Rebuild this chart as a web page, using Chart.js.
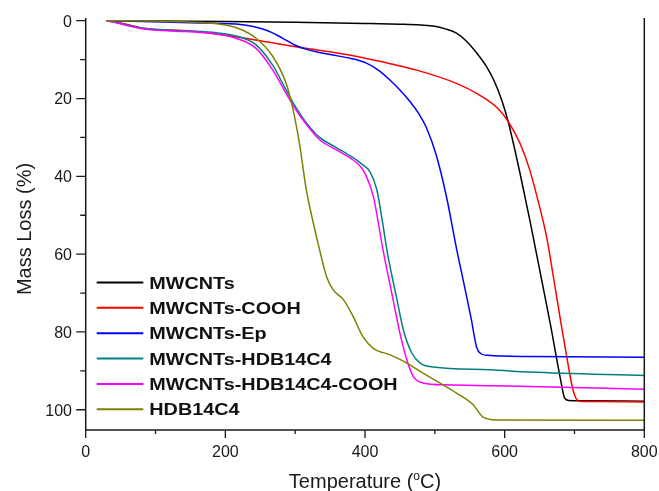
<!DOCTYPE html>
<html>
<head>
<meta charset="utf-8">
<script src="https://cdn.jsdelivr.net/npm/chart.js@4/dist/chart.umd.min.js"></script>
<style>
  html, body { margin: 0; padding: 0; background: #ffffff; }
  #wrap { width: 659px; height: 491px; }
</style>
</head>
<body>
<div id="wrap"><canvas id="c" width="659" height="491"></canvas></div>
<script>
// Thermogravimetric curves: mass loss (%) versus temperature (°C)
const seriesNames = ['MWCNTs', 'MWCNTs-COOH', 'MWCNTs-Ep', 'MWCNTs-HDB14C4', 'MWCNTs-HDB14C4-COOH', 'HDB14C4'];
const seriesColors = ['#000000', '#ff0000', '#0000ff', '#008080', '#ff00ff', '#808000'];

const tempMWCNTs = [30, 100, 200, 300, 400, 450, 480, 500, 515, 531, 545, 560, 573, 585, 596, 605, 622, 636, 653, 666, 679, 686, 692, 710, 800];
const lossMWCNTs = [0, 0.1, 0.2, 0.4, 0.7, 0.9, 1.1, 1.4, 2.1, 3.2, 5.2, 8.3, 11.5, 15.5, 20.5, 25.9, 39.2, 51.2, 66.6, 78.5, 91.2, 97.0, 97.6, 97.7, 97.8];

const tempCOOH = [30, 50, 86, 144, 215, 258, 315, 350, 402, 474, 531, 564, 590, 605, 622, 636, 650, 660, 670.5, 680, 690, 698, 706, 720, 800];
const lossCOOH = [0, 0.6, 2.0, 2.6, 4.1, 5.4, 7.1, 8.0, 9.7, 12.7, 16.1, 19.1, 22.5, 25.9, 31.5, 38.4, 47.8, 55.5, 66.6, 77.0, 87.5, 95.0, 97.8, 97.9, 98.0];

const tempEp = [30, 96, 150, 215, 240, 258, 275, 287, 300, 315, 330, 350, 380, 402, 420, 436, 450, 465, 476, 488, 502, 517, 531, 541, 552, 560, 566, 575, 636, 800];
const lossEp = [0, 0.25, 0.5, 0.85, 1.5, 2.4, 3.8, 5.0, 6.3, 7.3, 8.0, 8.7, 9.7, 10.9, 12.8, 15.3, 17.8, 20.9, 23.6, 27.5, 34.5, 45.5, 58.5, 67.0, 76.5, 84.0, 85.6, 86.0, 86.3, 86.5];

const tempHDB = [30, 48, 70, 86, 144, 187, 215, 244, 268, 287, 301, 315, 335, 359, 383, 395, 407, 417, 433, 445, 455, 467, 479, 498, 579, 636, 800];
const lossHDB = [0, 0.6, 1.5, 2.0, 2.6, 3.1, 3.9, 6.2, 11.5, 17.8, 22.3, 26.0, 30.0, 32.6, 35.2, 36.8, 38.8, 43.5, 60.6, 71.0, 79.5, 85.4, 88.0, 89.0, 89.7, 90.3, 91.2];

const tempHDBCOOH = [30, 48, 70, 86, 144, 187, 215, 244, 268, 287, 301, 315, 335, 359, 383, 395, 402, 412, 426, 440, 450, 460, 469, 483, 517, 579, 636, 800];
const lossHDBCOOH = [0, 0.7, 1.7, 2.2, 2.8, 3.4, 4.5, 7.1, 12.7, 18.7, 22.9, 26.4, 30.6, 33.2, 35.8, 37.8, 40.0, 45.2, 59.1, 71.5, 80.3, 87.2, 91.4, 93.1, 93.6, 93.8, 94.0, 94.7];

const tempPure = [30, 100, 144, 191, 219, 244, 268, 287, 296, 306, 316, 326, 335, 345, 354.5, 369, 383, 397, 412, 436, 460, 483, 507, 531, 555, 569, 588, 800];
const lossPure = [0, 0.1, 0.3, 0.85, 2.0, 4.5, 9.2, 16.1, 22.1, 31.4, 43.5, 52.0, 58.9, 65.8, 69.2, 71.7, 76.0, 81.2, 84.2, 85.9, 88.0, 90.6, 93.1, 95.7, 98.7, 101.9, 102.6, 102.7];

const xTicks = [0, 100, 200, 300, 400, 500, 600, 700, 800];
const yTicks = [0, 10, 20, 30, 40, 50, 60, 70, 80, 90, 100];
const xLabelled = [0, 200, 400, 600, 800];
const yLabelled = [0, 20, 40, 60, 80, 100];

const temps = [tempMWCNTs, tempCOOH, tempEp, tempHDB, tempHDBCOOH, tempPure];
const losses = [lossMWCNTs, lossCOOH, lossEp, lossHDB, lossHDBCOOH, lossPure];

const datasets = seriesNames.map((name, i) => ({
  label: name,
  data: temps[i].map((t, k) => ({ x: t, y: losses[i][k] })),
  borderColor: seriesColors[i],
  backgroundColor: seriesColors[i],
  borderWidth: 1.5,
  pointRadius: 0,
  fill: false,
  cubicInterpolationMode: 'monotone',
  order: seriesNames.length - 1 - i
}));

const FONT = "'Liberation Sans', Arial, sans-serif";

// Axes frame, ticks, titles and the in-plot legend
const framePlugin = {
  id: 'frame',
  afterDatasetsDraw(chart) {
    const ctx = chart.ctx;
    const xs = chart.scales.x, ys = chart.scales.y;
    const L = xs.left, R = xs.right, T = ys.top, B = ys.bottom;
    ctx.save();
    ctx.strokeStyle = '#1a1a1a';
    ctx.fillStyle = '#1a1a1a';
    ctx.lineWidth = 1.5;
    ctx.beginPath();
    ctx.moveTo(L, T); ctx.lineTo(L, B); ctx.lineTo(R, B); ctx.lineTo(R, T);
    ctx.stroke();

    ctx.lineWidth = 1.3;
    ctx.beginPath();
    xTicks.forEach(v => {
      const px = xs.getPixelForValue(v);
      const len = xLabelled.includes(v) ? 8 : 4;
      ctx.moveTo(px, B); ctx.lineTo(px, B + len);
    });
    yTicks.forEach(v => {
      const py = ys.getPixelForValue(v);
      const len = yLabelled.includes(v) ? 9.5 : 5.5;
      ctx.moveTo(L, py); ctx.lineTo(L - len, py);
    });
    ctx.stroke();

    ctx.font = '16px ' + FONT;
    ctx.textBaseline = 'alphabetic';
    ctx.textAlign = 'center';
    xLabelled.forEach(v => {
      ctx.fillText(String(v), xs.getPixelForValue(v), 456.7);
    });
    ctx.textAlign = 'right';
    yLabelled.forEach(v => {
      ctx.fillText(String(v), 72, ys.getPixelForValue(v) + 5.8);
    });

    // x-axis title with superscript degree mark
    const part1 = 'Temperature (', part2 = 'o', part3 = 'C)';
    ctx.font = '20px ' + FONT;
    const w1 = ctx.measureText(part1).width;
    const w3 = ctx.measureText(part3).width;
    ctx.font = '12px ' + FONT;
    const w2 = ctx.measureText(part2).width;
    const total = w1 + w2 + w3;
    let tx = (L + R) / 2 - total / 2;
    const base = 488.3;
    ctx.textAlign = 'left';
    ctx.font = '20px ' + FONT;
    ctx.fillText(part1, tx, base);
    tx += w1;
    ctx.font = '12px ' + FONT;
    ctx.fillText(part2, tx, base - 8.2);
    tx += w2;
    ctx.font = '20px ' + FONT;
    ctx.fillText(part3, tx, base);

    // y-axis title
    ctx.save();
    ctx.translate(30.5, 229);
    ctx.rotate(-Math.PI / 2);
    ctx.textAlign = 'center';
    ctx.font = '20px ' + FONT;
    ctx.fillText('Mass Loss (%)', 0, 0);
    ctx.restore();

    // legend
    seriesNames.forEach((name, i) => {
      const y = 282.5 + 25.35 * i;
      ctx.strokeStyle = seriesColors[i];
      ctx.lineWidth = 2;
      ctx.beginPath();
      ctx.moveTo(96.7, y); ctx.lineTo(143.3, y);
      ctx.stroke();
      ctx.save();
      ctx.translate(149.3, y + 6.1);
      ctx.scale(1.165, 1);
      ctx.fillStyle = '#111111';
      ctx.font = 'bold 17px ' + FONT;
      ctx.textAlign = 'left';
      ctx.fillText(name, 0, 0);
      ctx.restore();
    });
    ctx.restore();
  }
};

new Chart(document.getElementById('c'), {
  type: 'line',
  data: { datasets },
  options: {
    responsive: false,
    devicePixelRatio: 1,
    animation: false,
    parsing: true,
    layout: { padding: { left: 85.7, right: 14.7, top: 18, bottom: 61 } },
    plugins: { legend: { display: false }, tooltip: { enabled: false } },
    scales: {
      x: { type: 'linear', min: 0, max: 800, display: false },
      y: { type: 'linear', min: -0.7, max: 105.2, reverse: true, display: false }
    }
  },
  plugins: [framePlugin]
});
</script>
</body>
</html>
